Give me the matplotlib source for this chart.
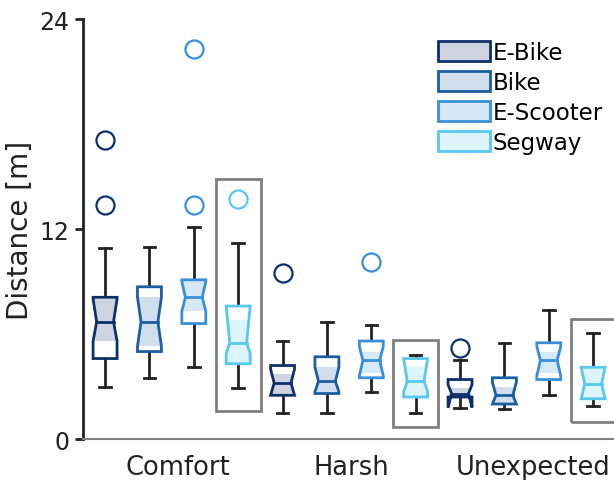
import matplotlib.pyplot as plt
from matplotlib.patches import Polygon, Rectangle, Patch

groups = ["Comfort", "Harsh", "Unexpected"]
vehicles = ["E-Bike", "Bike", "E-Scooter", "Segway"]
colors = ["#0e2f6a", "#1c5ea0", "#3a8fd9", "#58c8ef"]

# per box, group-major: Comfort (4), Harsh (4), Unexpected (4)
whislo = [3.0, 3.5, 4.1, 2.9, 1.5, 1.5, 2.7, 1.5, 1.8, 1.7, 2.5, 1.9]
q1 = [4.6, 5.0, 6.6, 4.3, 2.5, 2.6, 3.5, 2.4, 2.4, 2.0, 3.4, 2.3]
med = [6.7, 6.7, 8.1, 5.5, 3.2, 3.3, 4.5, 3.3, 2.6, 2.5, 4.5, 3.15]
q3 = [8.1, 8.7, 9.1, 7.6, 4.2, 4.7, 5.6, 4.6, 3.4, 3.5, 5.5, 4.1]
whishi = [10.9, 11.0, 12.1, 11.2, 5.6, 6.7, 6.5, 4.8, 4.5, 5.5, 7.4, 6.05]
notch_lo = [5.6, 5.3, 7.3, 4.9, 2.5, 2.7, 3.6, 2.7, 1.8, 2.0, 3.6, 2.3]
notch_hi = [8.0, 8.1, 9.0, 7.6, 4.0, 4.1, 5.3, 4.6, 3.1, 3.25, 5.3, 4.1]
shade_lo = [5.6, 5.3, 7.3, 4.3, 2.5, 2.6, 3.8, 2.4, 2.4, 2.0, 3.8, 2.3]
shade_hi = [8.0, 8.1, 9.1, 6.8, 3.7, 4.1, 5.0, 4.1, 2.9, 3.0, 5.0, 4.1]
fliers = [[13.4, 17.1], [], [13.4, 22.3], [13.7], [9.5], [], [10.1], [],
          [5.2], [], [], []]
# highlighted Segway boxes (bottom, top)
highlight = [(1.6, 14.86), (0.69, 5.66), (0.97, 6.86)]

fig = plt.figure(figsize=(6.14, 4.81), dpi=100)
ax = fig.add_axes([0.135, 0.0852, 0.865, 0.873])

hw = 0.27   # half box width
nw = 0.19   # half width at the notch
cw = 0.13   # half cap width

for i in range(12):
    x = i + 1
    c = colors[i % 4]
    # whiskers
    ax.plot([x, x], [q3[i], whishi[i]], color="#222222", lw=2, zorder=2)
    ax.plot([x, x], [whislo[i], q1[i]], color="#222222", lw=2, zorder=2)
    ax.plot([x - cw, x + cw], [whishi[i]] * 2, color="#222222", lw=2, zorder=2)
    ax.plot([x - cw, x + cw], [whislo[i]] * 2, color="#222222", lw=2, zorder=2)
    # notched box
    xs = [x - hw, x + hw, x + hw, x + nw, x + hw, x + hw, x - hw, x - hw, x - nw, x - hw]
    ys = [q1[i], q1[i], notch_lo[i], med[i], notch_hi[i], q3[i], q3[i], notch_hi[i], med[i], notch_lo[i]]
    body = Polygon(list(zip(xs, ys)), closed=True, facecolor="white", edgecolor="none", zorder=3)
    ax.add_patch(body)
    sh = Rectangle((x - hw, shade_lo[i]), 2 * hw, shade_hi[i] - shade_lo[i],
                   facecolor=c, alpha=0.2, edgecolor="none", zorder=4)
    ax.add_patch(sh)
    sh.set_clip_path(body)
    ax.add_patch(Polygon(list(zip(xs, ys)), closed=True, facecolor="none",
                         edgecolor=c, lw=2, zorder=5))
    ax.plot([x - nw, x + nw], [med[i]] * 2, color=c, lw=2, zorder=5)
    # outliers
    if fliers[i]:
        ax.plot([x] * len(fliers[i]), fliers[i], "o", mfc="none", mec=c,
                ms=13, mew=1.6, zorder=5)

for g, (lo, hi) in enumerate(highlight):
    xc = 4 * g + 4
    ax.add_patch(Rectangle((xc - 0.51, lo), 1.02, hi - lo, facecolor="none",
                           edgecolor="#808080", lw=2, zorder=1))

ax.set_xlim(0.5, 12.47)
ax.set_ylim(0, 24)
ax.set_yticks([0, 12, 24])
ax.set_xticks([2.65, 6.55, 10.65])
ax.set_xticklabels(groups)
ax.tick_params(axis="x", length=0, labelsize=18.5, pad=11, colors="#222222")
ax.tick_params(axis="y", length=6, width=2, labelsize=17, colors="#222222")
ax.spines["top"].set_visible(False)
ax.spines["right"].set_visible(False)
ax.spines["left"].set_linewidth(2)
ax.spines["left"].set_color("#222222")
ax.spines["bottom"].set_color("#808080")
ax.spines["bottom"].set_linewidth(1.5)
ax.set_ylabel("Distance [m]", fontsize=20, color="#222222", labelpad=4)

handles = [Patch(facecolor=(c, 0.2), edgecolor=c, lw=2) for c in colors]
ax.legend(handles, vehicles, loc="upper left", bbox_to_anchor=(438 / 614, 1 - 42 / 481),
          bbox_transform=fig.transFigure, frameon=False, fontsize=16.5,
          handlelength=2.25, handleheight=0.95, handletextpad=0.15,
          labelspacing=0.3, borderpad=0, borderaxespad=0)

fig.savefig("out.png", dpi=100)
